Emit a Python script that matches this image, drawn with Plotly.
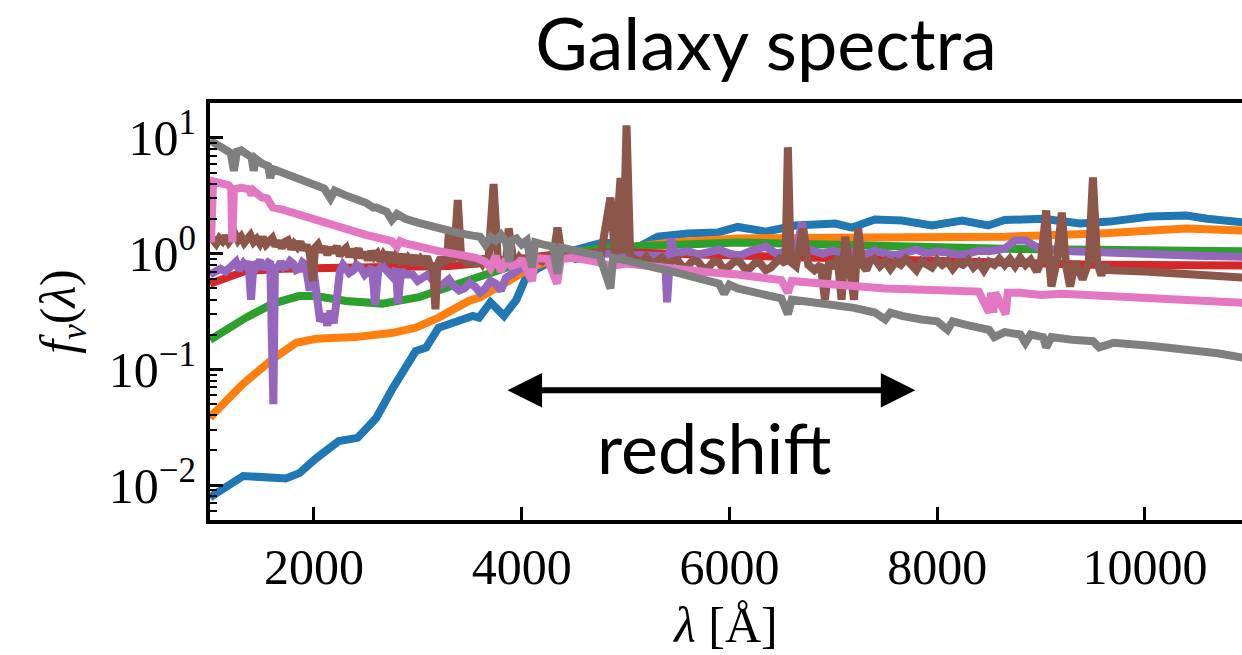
import math
import plotly.graph_objects as go

# ---------------- data ----------------
blue_lam = [1000, 1040, 1320, 1730, 1860, 2020, 2240, 2420, 2600, 2760, 2980, 3080, 3200,
            3530, 3590, 3700, 3830, 3950, 4040, 4150, 4470, 4790, 5115, 5310, 5600, 5885,
            6080, 6350, 6635, 7020, 7180, 7400, 7660, 7950, 8240, 8490, 8650, 8800, 9020,
            9375, 9660, 10050, 10400, 10600, 10950]
blue_flux = [0.0078, 0.0083, 0.012, 0.0114, 0.0127, 0.017, 0.024, 0.0256, 0.038, 0.069,
             0.144, 0.154, 0.229, 0.29, 0.28, 0.38, 0.29, 0.40, 0.62, 0.74, 1.05, 1.25,
             1.13, 1.40, 1.49, 1.52, 1.70, 1.55, 1.75, 1.82, 1.68, 1.97, 1.93, 1.75, 1.93,
             1.75, 1.95, 2.0, 2.0, 1.82, 1.89, 2.09, 2.13, 2.0, 1.86]

orange_lam = [1000, 1030, 1317, 1605, 1830, 2020, 2400, 2760, 2980, 3200, 3490, 3600, 3830,
              4090, 4350, 4600, 5050, 5430, 6080, 7340, 8650, 9570, 10050, 10400, 10950]
orange_flux = [0.038, 0.041, 0.075, 0.123, 0.17, 0.184, 0.19, 0.207, 0.229, 0.28, 0.39, 0.42,
               0.55, 0.76, 0.92, 1.0, 1.13, 1.25, 1.35, 1.38, 1.40, 1.49, 1.58, 1.65, 1.58]

green_lam = [1000, 1346, 1605, 1856, 2020, 2310, 2660, 3010, 3390, 3560, 3900, 4400, 4790,
             6080, 7340, 8650, 10950]
green_flux = [0.18, 0.28, 0.37, 0.43, 0.43, 0.39, 0.37, 0.42, 0.55, 0.61, 0.78, 1.0, 1.13,
              1.25, 1.17, 1.10, 1.05]

red_lam = [1000, 1346, 1700, 2200, 2800, 3300, 3800, 4400, 5000, 6000, 7000, 8000, 8650,
           9500, 10950]
red_flux = [0.55, 0.71, 0.74, 0.75, 0.75, 0.78, 0.86, 1.0, 1.02, 0.97, 0.9, 0.85, 0.82,
            0.80, 0.79]

purple_lam = [1000, 1060, 1100, 1150, 1200, 1250, 1280, 1320, 1345, 1370, 1395, 1420, 1450,
              1480, 1510, 1530, 1560, 1580, 1600, 1610, 1625, 1650, 1680, 1710, 1740, 1770,
              1800, 1830, 1860, 1890, 1920, 1960, 1990, 2030, 2060, 2100, 2130, 2160, 2190,
              2220, 2250, 2280, 2300, 2340, 2380, 2410, 2450, 2490, 2520, 2560, 2590, 2620,
              2660, 2700, 2750, 2790, 2810, 2840, 2880, 2950, 3000, 3050, 3100, 3150, 3200,
              3250, 3300, 3350, 3400, 3450, 3500, 3550, 3600, 3650, 3700, 3750, 3800, 3850,
              3950, 4050, 4200, 4350, 4500, 4650, 4800, 5000, 5200, 5380, 5400, 5420, 5440,
              5470, 5600, 5700, 5800, 5900, 6000, 6100, 6200, 6350, 6450, 6550, 6650, 6700,
              6740, 6900, 7000, 7100, 7200, 7300, 7400, 7500, 7600, 7700, 7800, 7900, 8000,
              8100, 8200, 8300, 8400, 8500, 8650, 8750, 8850, 8950, 9100, 9300, 9600, 10000,
              10500, 10950]
purple_flux = [0.66, 0.70, 0.74, 0.70, 0.78, 0.85, 0.72, 0.82, 0.76, 0.86, 0.40, 0.84, 0.78,
               0.88, 0.74, 0.78, 0.84, 0.82, 0.25, 0.05, 0.80, 0.74, 0.85, 0.76, 0.78, 0.86,
               0.82, 0.72, 0.74, 0.84, 0.80, 0.48, 0.80, 0.45, 0.26, 0.30, 0.24, 0.32, 0.25,
               0.40, 0.70, 0.80, 0.75, 0.68, 0.72, 0.80, 0.76, 0.66, 0.70, 0.76, 0.36, 0.72,
               0.78, 0.70, 0.64, 0.74, 0.37, 0.72, 0.66, 0.66, 0.58, 0.62, 0.66, 0.58, 0.52,
               0.55, 0.60, 0.52, 0.48, 0.50, 0.56, 0.52, 0.46, 0.50, 0.58, 0.55, 0.48, 0.62,
               0.72, 0.80, 0.90, 0.95, 0.98, 0.97, 1.0, 0.98, 0.97, 0.95, 0.38, 0.95, 1.35,
               1.0, 1.05, 0.98, 1.02, 1.08, 1.0, 0.96, 1.05, 1.15, 1.0, 1.05, 1.1, 1.85,
               1.1, 1.0, 1.06, 0.98, 1.04, 0.98, 1.06, 1.0, 0.97, 1.02, 1.08, 1.0, 1.04,
               1.02, 0.98, 1.0, 1.06, 1.05, 1.1, 1.30, 1.30, 1.15, 1.08, 1.05, 1.02, 0.99,
               0.96, 0.94]

brown_lam = [1000, 1030, 1060, 1090, 1120, 1150, 1180, 1210, 1240, 1270, 1300, 1330, 1360,
             1390, 1420, 1450, 1480, 1510, 1540, 1570, 1600, 1630, 1660, 1690, 1720, 1750,
             1780, 1810, 1840, 1870, 1900, 1930, 1960, 1990, 2010, 2040, 2070, 2100, 2130,
             2160, 2190, 2220, 2250, 2280, 2310, 2340, 2370, 2400, 2430, 2460, 2490, 2520,
             2550, 2580, 2610, 2640, 2670, 2700, 2730, 2760, 2790, 2820, 2850, 2880, 2910,
             2940, 2970, 3000, 3030, 3060, 3090, 3120, 3150, 3170, 3190, 3220, 3250, 3280,
             3300, 3320, 3350, 3385, 3420, 3450, 3480, 3520, 3550, 3580, 3620, 3650, 3680,
             3730, 3770, 3800, 3820, 3850, 3875, 3920, 3950, 3980, 4020, 4050, 4100, 4150,
             4200, 4250, 4300, 4346, 4390, 4450, 4520, 4600, 4680, 4760, 4855, 4900, 4952,
             4980, 5010, 5045, 5100, 5150, 5200, 5250, 5300, 5350, 5400, 5450, 5500, 5550,
             5600, 5650, 5700, 5750, 5800, 5850, 5900, 5950, 6000, 6050, 6100, 6150, 6200,
             6250, 6300, 6350, 6400, 6450, 6480, 6540, 6563, 6590, 6640, 6710, 6760, 6820,
             6880, 6920, 6960, 7000, 7040, 7080, 7115, 7150, 7200, 7240, 7280, 7320, 7350,
             7400, 7450, 7500, 7550, 7600, 7650, 7700, 7750, 7800, 7850, 7900, 7950, 8000,
             8050, 8100, 8150, 8200, 8250, 8300, 8350, 8400, 8450, 8500, 8550, 8600, 8650,
             8700, 8750, 8800, 8850, 8900, 8960, 9000, 9050, 9080, 9100, 9150, 9200, 9240,
             9280, 9330, 9400, 9460, 9500, 9540, 9580, 9620, 9650, 10000, 10500, 10950]
brown_flux = [1.25, 1.32, 1.22, 1.36, 1.28, 1.42, 1.26, 1.38, 1.48, 1.30, 1.40, 1.24, 1.36,
              1.44, 1.26, 1.34, 1.22, 1.38, 1.20, 1.30, 1.36, 1.16, 1.28, 1.12, 1.26, 1.30,
              1.10, 1.22, 1.14, 1.26, 1.08, 1.18, 1.02, 0.58, 1.12, 1.20, 1.04, 1.14, 0.98,
              1.12, 1.02, 1.16, 0.96, 1.06, 1.12, 0.94, 1.08, 0.98, 1.10, 0.92, 1.02, 0.88,
              1.04, 0.94, 1.00, 0.86, 0.98, 0.90, 1.02, 0.84, 0.96, 0.88, 0.98, 0.82, 0.92,
              0.86, 0.96, 0.80, 0.90, 0.84, 0.94, 0.78, 0.70, 0.33, 0.80, 0.92, 0.84, 0.88,
              1.5, 0.86, 0.92, 2.9, 0.85, 0.94, 0.80, 0.90, 0.78, 0.92, 0.82, 0.94, 0.86,
              4.0, 0.90, 0.80, 0.92, 0.84, 1.65, 0.88, 0.80, 0.92, 0.84, 0.90, 0.85, 0.92,
              0.86, 0.93, 0.88, 1.68, 0.90, 0.95, 0.90, 0.95, 0.90, 0.94, 3.05, 0.95, 4.5,
              1.0, 12.8, 0.95, 0.90, 0.84, 0.93, 0.82, 0.85, 0.92, 0.80, 0.86, 0.88, 0.76,
              0.78, 0.88, 0.85, 0.74, 0.76, 0.86, 0.84, 0.72, 0.78, 0.86, 0.85, 0.74, 0.75,
              0.84, 0.82, 0.72, 0.76, 0.84, 0.90, 0.82, 8.3, 0.85, 0.78, 1.65, 0.80, 0.72,
              0.80, 0.40, 0.85, 0.75, 0.95, 0.40, 1.4, 0.85, 0.40, 1.65, 0.80, 0.72, 0.85,
              0.90, 0.78, 0.86, 0.74, 0.85, 0.80, 0.90, 0.78, 0.72, 0.86, 0.80, 0.76, 0.88,
              0.80, 0.86, 0.74, 0.84, 0.80, 0.88, 0.76, 0.84, 0.72, 0.85, 0.80, 0.90, 0.80,
              0.90, 0.78, 0.92, 0.80, 0.88, 0.70, 0.85, 2.36, 0.85, 0.52, 0.85, 2.26, 0.80,
              0.52, 0.85, 0.60, 0.85, 4.55, 0.85, 0.65, 0.80, 0.72, 0.70, 0.66, 0.62]

pink_lam = [1000, 1010, 1030, 1100, 1180, 1205, 1215, 1230, 1300, 1380, 1400, 1420, 1500,
            1550, 1605, 1700, 1800, 1920, 2000, 2100, 2200, 2340, 2500, 2650, 2750, 2800,
            2830, 2890, 3000, 3200, 3400, 3560, 3650, 3700, 3750, 3800, 3850, 3900, 3970,
            4000, 4100, 4130, 4250, 4340, 4380, 4500, 4700, 4861, 5000, 5200, 5400, 5600,
            5800, 6080, 6300, 6500, 6563, 6600, 6800, 7000, 7200, 7500, 7800, 8100, 8400,
            8500, 8520, 8540, 8560, 8660, 8680, 8800, 9000, 9200, 9400, 9800, 10200, 10600,
            10950]
pink_flux = [4.3, 1.25, 4.2, 4.0, 3.9, 3.6, 1.25, 3.6, 3.7, 3.6, 3.2, 3.5, 3.05, 3.0, 2.5,
             2.4, 2.25, 2.05, 2.0, 1.85, 1.75, 1.58, 1.45, 1.35, 1.28, 1.15, 1.28, 1.22,
             1.15, 1.05, 0.98, 0.92, 0.85, 0.75, 0.95, 0.70, 0.90, 0.78, 0.82, 0.90, 0.58,
             0.92, 0.90, 0.55, 0.90, 0.92, 0.86, 0.78, 0.82, 0.78, 0.74, 0.72, 0.69, 0.66,
             0.62, 0.59, 0.46, 0.58, 0.56, 0.54, 0.52, 0.50, 0.49, 0.48, 0.47, 0.31, 0.46,
             0.31, 0.46, 0.30, 0.46, 0.46, 0.44, 0.45, 0.44, 0.42, 0.40, 0.39, 0.375]

gray_lam = [1000, 1050, 1100, 1150, 1200, 1230, 1260, 1300, 1340, 1400, 1420, 1440, 1500,
            1560, 1580, 1600, 1700, 1800, 1920, 2000, 2100, 2160, 2200, 2300, 2400, 2500,
            2570, 2600, 2700, 2750, 2800, 2880, 3000, 3100, 3270, 3400, 3530, 3600, 3650,
            3700, 3750, 3800, 3850, 3880, 3900, 3950, 4000, 4050, 4100, 4130, 4200, 4300,
            4346, 4380, 4470, 4600, 4750, 4855, 4880, 5000, 5115, 5200, 5300, 5400, 5500,
            5700, 5900, 5950, 6000, 6080, 6300, 6500, 6563, 6600, 6800, 7020, 7200, 7400,
            7500, 7550, 7660, 7850, 8000, 8100, 8150, 8300, 8500, 8550, 8650, 8800, 8850,
            8900, 9020, 9050, 9100, 9300, 9500, 9560, 9700, 10050, 10400, 10700, 10950]
gray_flux = [9.5, 9.0, 8.5, 7.8, 7.4, 5.2, 7.6, 7.8, 7.5, 6.8, 5.2, 6.6, 6.0, 5.7, 4.5,
             5.4, 5.0, 4.6, 4.1, 3.9, 3.65, 3.0, 3.5, 3.2, 3.0, 2.75, 2.5, 2.5, 2.3, 1.95,
             2.2, 2.0, 1.85, 1.75, 1.58, 1.5, 1.43, 1.4, 1.2, 1.4, 1.3, 1.45, 1.25, 0.85,
             1.3, 1.35, 1.2, 1.3, 0.76, 1.25, 1.2, 1.15, 0.67, 1.13, 1.08, 1.02, 0.96, 0.50,
             0.92, 0.88, 0.82, 0.80, 0.75, 0.72, 0.68, 0.62, 0.55, 0.45, 0.54, 0.50, 0.45,
             0.41, 0.30, 0.40, 0.38, 0.36, 0.34, 0.31, 0.27, 0.31, 0.29, 0.27, 0.26, 0.22,
             0.26, 0.24, 0.22, 0.19, 0.21, 0.20, 0.17, 0.20, 0.19, 0.155, 0.19, 0.18, 0.175,
             0.155, 0.17, 0.16, 0.15, 0.138, 0.126]

series = [
    ("blue", blue_lam, blue_flux, "#1f77b4"),
    ("orange", orange_lam, orange_flux, "#ff7f0e"),
    ("green", green_lam, green_flux, "#2ca02c"),
    ("red", red_lam, red_flux, "#d62728"),
    ("purple", purple_lam, purple_flux, "#9467bd"),
    ("brown", brown_lam, brown_flux, "#8c564b"),
    ("pink", pink_lam, pink_flux, "#e377c2"),
    ("gray", gray_lam, gray_flux, "#7f7f7f"),
]

x_ticks = [2000, 4000, 6000, 8000, 10000]
y_ticks = [0.01, 0.1, 1, 10]
y_ticktext = ["10<sup>\u22122</sup>", "10<sup>\u22121</sup>", "10<sup>0</sup>", "10<sup>1</sup>"]

x_range = [1000, 10935]
y_range = [0.005, 20]

arrow_left, arrow_right, arrow_y = 3850, 7790, 0.066
label_x, label_y = 5850, 0.0215

# ---------------- figure ----------------
fig = go.Figure()
for name, lam, flux, color in series:
    fig.add_trace(go.Scatter(x=lam, y=flux, mode="lines", name=name,
                             line=dict(color=color, width=8), showlegend=False))

serif = "Liberation Serif"
sans = "Lato"
minor_vals = [m * 10 ** e for e in range(-3, 2) for m in range(2, 10)]

fig.update_layout(
    width=1242, height=655,
    margin=dict(l=210, r=0, t=103, b=135),
    paper_bgcolor="white", plot_bgcolor="white",
    title=dict(text="Galaxy spectra", x=766 / 1242, xanchor="center", xref="container",
               y=1 - 45 / 655, yanchor="middle", yref="container",
               font=dict(family=sans, size=72, color="black")),
    xaxis=dict(range=x_range, tickvals=x_ticks, ticktext=[str(v) for v in x_ticks],
               ticks="inside", ticklen=13, tickwidth=3, tickcolor="black",
               showline=True, linecolor="black", linewidth=4, mirror=True,
               showgrid=False, zeroline=False,
               tickfont=dict(family=serif, size=50, color="black"),
               title=dict(text="<i>\u03bb</i> [\u00c5]", standoff=14,
                          font=dict(family=serif, size=50, color="black"))),
    yaxis=dict(type="log", range=[math.log10(y_range[0]), math.log10(y_range[1])],
               tickvals=y_ticks, ticktext=y_ticktext,
               ticks="inside", ticklen=13, tickwidth=3, tickcolor="black",
               minor=dict(tickvals=minor_vals, ticks="inside", ticklen=7, tickwidth=2,
                          tickcolor="black", showgrid=False),
               showline=True, linecolor="black", linewidth=4,
               showgrid=False, zeroline=False,
               tickfont=dict(family=serif, size=50, color="black"),
               title=dict(text="<i>f<sub>\u03bd</sub></i>(<i>\u03bb</i>)", standoff=18,
                          font=dict(family=serif, size=50, color="black"))),
)

fig.add_annotation(x=arrow_right, y=math.log10(arrow_y), ax=arrow_left, ay=math.log10(arrow_y),
                   xref="x", yref="y", axref="x", ayref="y", text="",
                   showarrow=True, arrowside="end+start",
                   arrowhead=2, startarrowhead=2, arrowsize=1.15, startarrowsize=1.15,
                   arrowwidth=6, arrowcolor="black")
fig.add_annotation(x=label_x, y=math.log10(label_y), xref="x", yref="y",
                   text="redshift", showarrow=False,
                   font=dict(family=sans, size=70, color="black"))

fig.write_html("out.html")
